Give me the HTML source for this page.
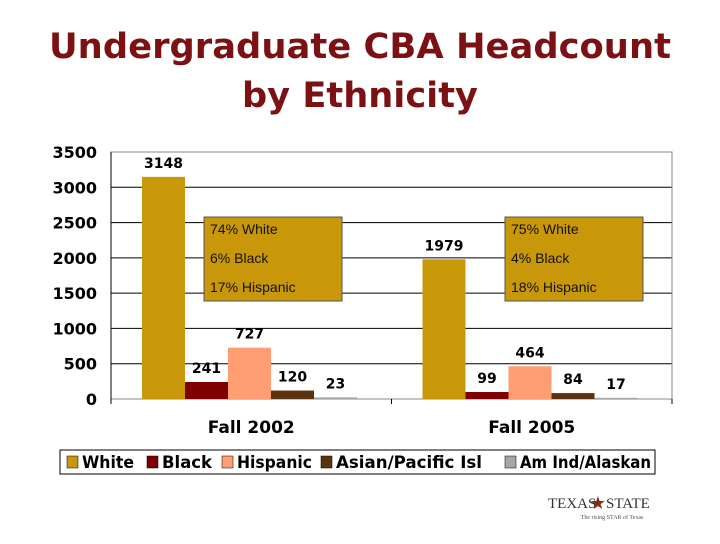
<!DOCTYPE html>
<html><head><meta charset="utf-8"><style>
body{margin:0;width:720px;height:540px;background:#fff;overflow:hidden;font-family:"DejaVu Sans",sans-serif}
</style></head><body>
<svg width="720" height="540" xmlns="http://www.w3.org/2000/svg" font-family="DejaVu Sans, sans-serif">
<text x="360" y="58" text-anchor="middle" font-size="35" font-weight="bold" fill="#7b1113" textLength="622" lengthAdjust="spacingAndGlyphs">Undergraduate CBA Headcount</text>
<text x="360" y="107" text-anchor="middle" font-size="35" font-weight="bold" fill="#7b1113" textLength="236" lengthAdjust="spacingAndGlyphs">by Ethnicity</text>
<g id="grid"></g><g id="bars"></g><g id="labels"></g>
<g font-family="Liberation Sans, sans-serif">
<rect x="204" y="217" width="138" height="84" fill="#c9980a" stroke="#555" stroke-width="1"/>
<text x="210" y="234" font-size="14" fill="#111">74% White</text>
<text x="210" y="263" font-size="14" fill="#111">6% Black</text>
<text x="210" y="292" font-size="14" fill="#111">17% Hispanic</text></g>
<g font-family="Liberation Sans, sans-serif">
<rect x="505" y="217" width="138" height="84" fill="#c9980a" stroke="#555" stroke-width="1"/>
<text x="511" y="234" font-size="14" fill="#111">75% White</text>
<text x="511" y="263" font-size="14" fill="#111">4% Black</text>
<text x="511" y="292" font-size="14" fill="#111">18% Hispanic</text></g>
<g id="legend"><rect x="60" y="450" width="595" height="24" fill="#fff" stroke="#000"/></g>
<g>
<text x="548" y="508" font-family="Liberation Serif,serif" font-size="15" fill="#333">TEXAS</text>
<text x="606" y="508" font-family="Liberation Serif,serif" font-size="15" fill="#333">STATE</text>
<text x="598" y="509" font-size="18" fill="#8a2a1a" text-anchor="middle">★</text>
<text x="612" y="519" font-family="Liberation Serif,serif" font-size="6" fill="#555" text-anchor="middle">The rising STAR of Texas</text></g>
</svg>
<script>
const categories=["Fall 2002","Fall 2005"];
const seriesNames=["White","Black","Hispanic","Asian/Pacific Isl","Am Ind/Alaskan"];
const white=[3148,1979];
const black=[241,99];
const hispanic=[727,464];
const asian=[120,84];
const amind=[23,17];
const ticks=[0,500,1000,1500,2000,2500,3000,3500];
const series=[white,black,hispanic,asian,amind];
const colors=["#c9980a","#800000","#ff9e73","#5c3310","#a6a6a6"];
const NS="http://www.w3.org/2000/svg";
const L=111,R=672,T=152,B=399,max=3500;
const y=v=>B-(v/max)*(B-T);
const gw=(R-L)/categories.length,bw=43,off=31;
function mk(t,a,p){const e=document.createElementNS(NS,t);for(const k in a)e.setAttribute(k,a[k]);document.getElementById(p).appendChild(e);return e;}
ticks.forEach(t=>{
 const l=mk('line',{x1:L,x2:R,y1:y(t),y2:y(t),stroke:'#000','stroke-width':1},'grid');
 
 
 const tx=mk('text',{x:97,y:y(t)+6,'text-anchor':'end','font-size':16,'font-weight':'bold'},'grid');tx.textContent=t;
 
 
});
mk('rect',{x:L,y:T,width:R-L,height:B-T,fill:'none',stroke:'#888'},'grid');
mk('line',{x1:L,x2:L,y1:T,y2:B+5,stroke:'#000'},'grid');
[0,1,2].forEach(i=>mk('line',{x1:L+i*gw,x2:L+i*gw,y1:B,y2:B+5,stroke:'#000'},'grid'));
categories.forEach((c,ci)=>{
 const ct=mk('text',{x:L+gw*ci+gw/2,y:433,'text-anchor':'middle','font-size':17,'font-weight':'bold'},'labels');ct.textContent=c;
 
 
 series.forEach((s,si)=>{
  const x=L+gw*ci+off+si*bw,v=s[ci];
  const r=mk('rect',{x:x,y:y(v),width:bw,height:B-y(v),fill:colors[si]},'bars');
  
  
  const t=mk('text',{x:x+bw/2,y:y(v)-9,'text-anchor':'middle','font-size':14,'font-weight':'bold'},'labels');t.textContent=v;
  
  
 });
});
const lx=[67,147,222,321,505];
const lw=[52,50,75,146,131];
seriesNames.forEach((n,i)=>{
 const r=mk('rect',{x:lx[i],y:456,width:11,height:12,fill:colors[i],stroke:'#000','stroke-width':0.5},'legend');
 
 
 const t=mk('text',{x:lx[i]+15,y:468,'font-size':17,'font-weight':'bold',textLength:lw[i],lengthAdjust:'spacingAndGlyphs'},'legend');t.textContent=n;
 
 
});
</script>
</body></html>
